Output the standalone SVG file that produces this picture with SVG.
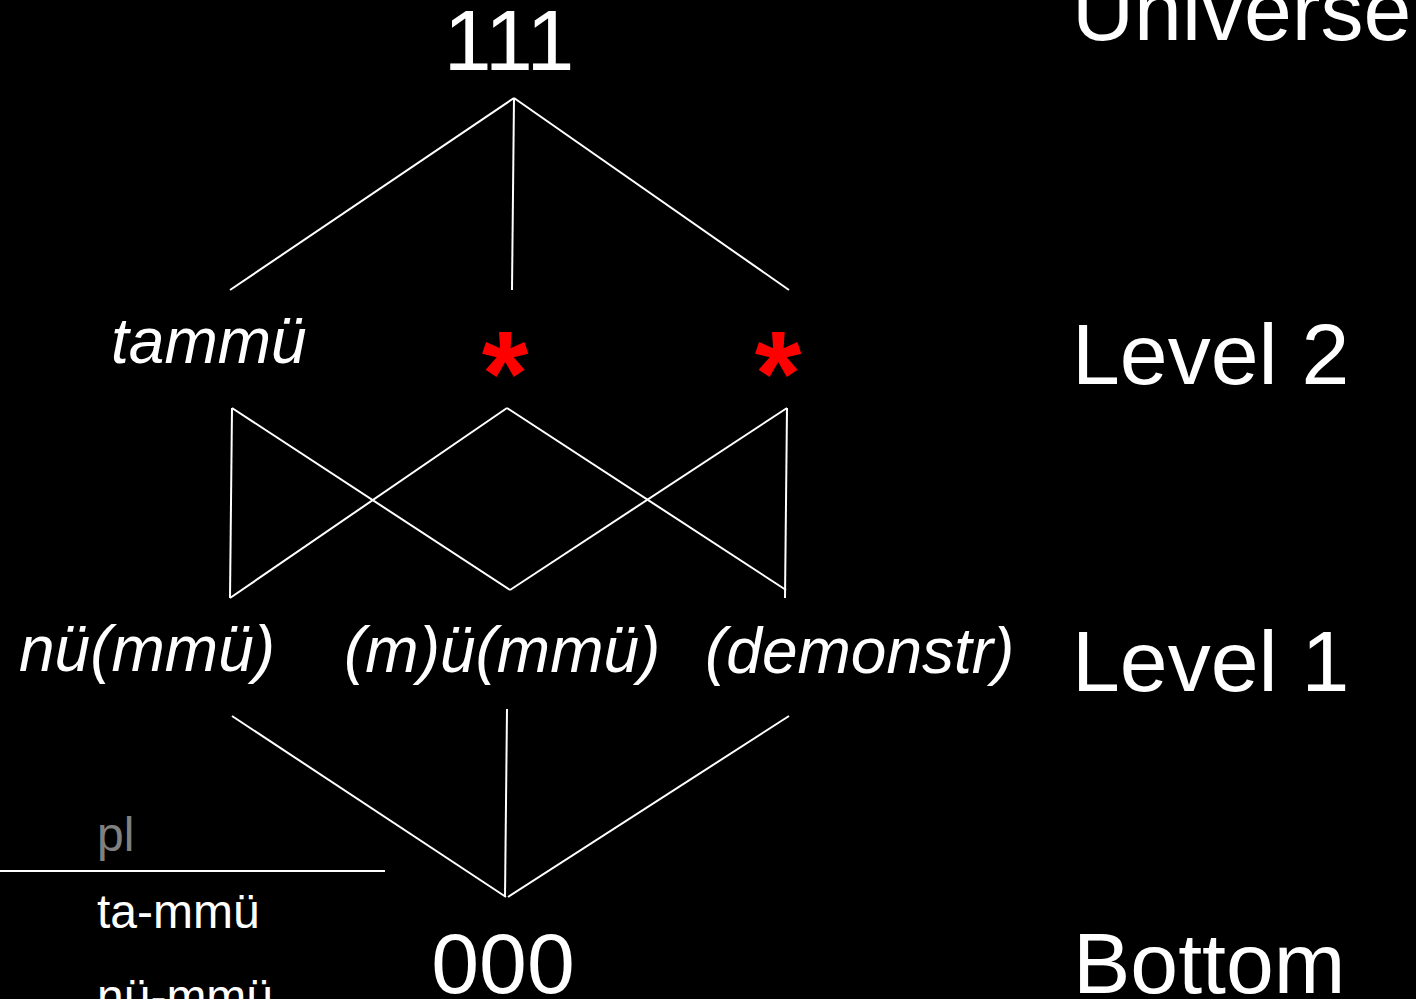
<svg xmlns="http://www.w3.org/2000/svg" width="1416" height="999" viewBox="0 0 1416 999">
  <style>
    .big { font-family: "Liberation Sans", Arial, sans-serif; font-size: 86px; fill: #ffffff; }
    .lbl { font-family: "Liberation Sans", Arial, sans-serif; font-size: 64px; font-style: italic; fill: #ffffff; }
    .star { font-family: "Liberation Sans", Arial, sans-serif; font-size: 120px; font-weight: bold; fill: #ff0000; text-anchor: middle; }
    .tbl { font-family: "Liberation Sans", Arial, sans-serif; font-size: 48px; fill: #ffffff; }
    .edge { stroke: #ffffff; stroke-width: 2; fill: none; }
  </style>
  <rect width="1416" height="999" fill="#000000"/>

  <!-- lattice edges -->
  <g id="connectors" class="edge">
    <line x1="514" y1="98" x2="230" y2="290"/>
    <line x1="514" y1="98" x2="512" y2="290"/>
    <line x1="514" y1="98" x2="789" y2="290"/>
    <line x1="232" y1="408" x2="230" y2="598"/>
    <line x1="232" y1="408" x2="510" y2="590"/>
    <line x1="507" y1="408" x2="230" y2="598"/>
    <line x1="507" y1="408" x2="786" y2="590"/>
    <line x1="787" y1="408" x2="510" y2="590"/>
    <line x1="787" y1="408" x2="785" y2="598"/>
    <line x1="232" y1="716" x2="506" y2="897"/>
    <line x1="507" y1="709" x2="505" y2="897"/>
    <line x1="789" y1="716" x2="508" y2="897"/>
  </g>

  <g id="top"><text class="big" x="509" y="70" text-anchor="middle">111</text></g>
  <g id="bottom"><text class="big" x="503" y="993" text-anchor="middle">000</text></g>

  <g id="tammu"><text class="lbl" x="111" y="363">tammü</text></g>
  <g id="star-mid"><text class="star" x="505" y="415">*</text></g>
  <g id="star-right"><text class="star" x="778" y="415">*</text></g>

  <g id="nu-mmu"><text class="lbl" x="19" y="671">nü(mmü)</text></g>
  <g id="m-u-mmu"><text class="lbl" x="344" y="672">(m)ü(mmü)</text></g>
  <g id="demonstr"><text class="lbl" x="705" y="673">(demonstr)</text></g>

  <!-- level names -->
  <g id="levels">
    <text class="big" x="1072" y="40">Universe</text>
    <text class="big" x="1072" y="384">Level 2</text>
    <text class="big" x="1072" y="691">Level 1</text>
    <text class="big" x="1073" y="993">Bottom</text>
  </g>

  <!-- plural paradigm -->
  <g id="paradigm">
    <text class="tbl" x="97" y="851" style="fill:#808080">pl</text>
    <line class="edge" x1="0" y1="871" x2="385" y2="871"/>
    <text class="tbl" x="97" y="928">ta-mmü</text>
    <text class="tbl" x="97" y="1013">nü-mmü</text>
  </g>
</svg>
